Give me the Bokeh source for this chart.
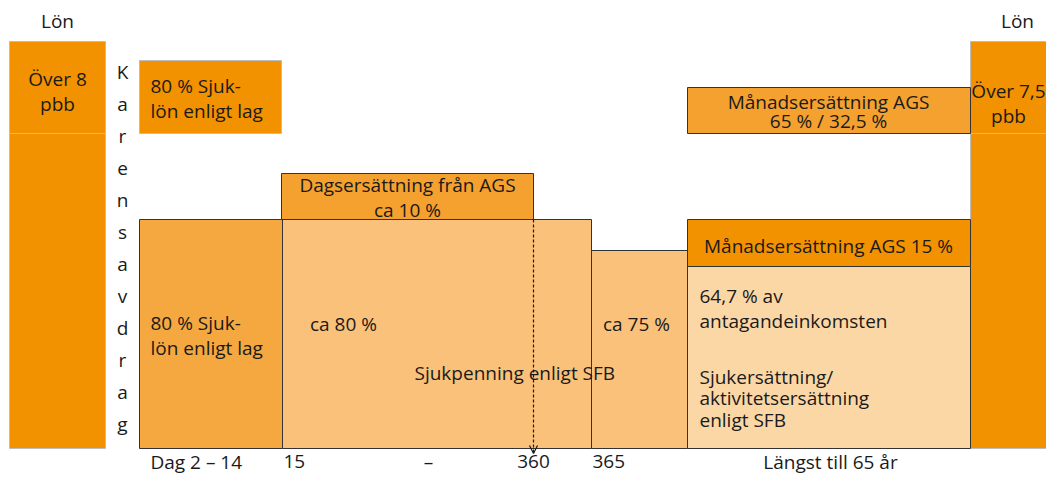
from bokeh.plotting import figure
from bokeh.models import Range1d, ColumnDataSource, Arrow, OpenHead
from bokeh.core.properties import value
from bokeh.embed import file_html
from bokeh.resources import INLINE

FONT = "Open Sans"
FS = "19px"
BASE = 448  # baseline of the schematic (pixel row)

# --- schematic boxes: column edges and levels (schematic units)
box_name = ["lon_l_top", "lon_l_bot", "lon_r_top", "lon_r_bot", "sjuklon_top", "sjuklon",
            "sjukpenning", "ags_dag", "ca75", "ags15", "sjukersattning", "ags65"]
box_left = [9, 9, 970, 970, 139, 139, 282, 281, 591, 687, 687, 687]
box_right = [105, 105, 1062, 1062, 281, 282, 591, 533, 687, 970, 970, 970]
box_top_px = [41, 133, 41, 133, 60, 219, 219, 173, 250, 219, 266, 87]
box_bot_px = [133, 448, 133, 448, 133, 448, 448, 219, 448, 266, 448, 133]
box_fill = ["#F39200", "#F39200", "#F39200", "#F39200", "#F39200", "#F5A840",
            "#FAC17A", "#F5A12F", "#FAC17A", "#F39200", "#FCD7A6", "#F5A12F"]
box_line = ["#BDBDBD", "#BDBDBD", "#BDBDBD", "#BDBDBD", "#BDBDBD", "#333333",
            "#333333", "#333333", "#333333", "#333333", "#333333", "#333333"]

# --- labels (grouped by line spacing)
lab_text = ["Lön", "Lön", "Över 8\npbb", "Över 7,5\npbb",
            "80 % Sjuk-\nlön enligt lag", "80 % Sjuk-\nlön enligt lag",
            "Dagsersättning från AGS\nca 10 %", "ca 80 %", "Sjukpenning enligt SFB", "ca 75 %",
            "Månadsersättning AGS 15 %", "64,7 % av\nantagandeinkomsten"]
lab_x = [57, 1017, 57, 1008, 150, 150, 407, 343, 414, 636, 828, 699]
lab_y_px = [20, 20, 91, 103, 98, 335, 197, 323, 372, 323, 245, 308]
lab_align = ["center", "center", "center", "center", "left", "left", "center", "center",
             "left", "center", "center", "left"]

sjuk_text = "Sjukersättning/\naktivitetsersättning\nenligt SFB"
sjuk_x, sjuk_y_px = 699, 398

ags65_text = "Månadsersättning AGS\n65 % / 32,5 %"
ags65_x, ags65_y_px = 828, 111

karens_text = "\n".join("Karensavdrag")
karens_x, karens_y_px = 122, 247.5

tick_text = ["Dag 2 – 14", "15", "–", "360", "365", "Längst till 65 år"]
tick_x = [150, 283, 428, 533, 592, 830]
tick_align = ["left", "left", "center", "center", "left", "center"]
tick_y_px = 461


def yv(py):
    return BASE - py


p = figure(width=1046, height=473, output_backend="svg", toolbar_location=None,
           x_range=Range1d(0, 1046), y_range=Range1d(BASE - 473, BASE),
           min_border=0, min_border_left=0, min_border_right=0,
           min_border_top=0, min_border_bottom=0)
p.axis.visible = False
p.grid.visible = False
p.outline_line_color = None
p.background_fill_color = "white"

src = ColumnDataSource(dict(left=box_left, right=box_right,
                            top=[yv(v) for v in box_top_px], bottom=[yv(v) for v in box_bot_px],
                            fill=box_fill, line=box_line))
p.quad(left="left", right="right", top="top", bottom="bottom", source=src,
       fill_color="fill", line_color="line", line_width=1)

common = dict(text_baseline="middle", text_font=value(FONT), text_font_size=FS, text_color="#1a1a1a")

lsrc = ColumnDataSource(dict(x=lab_x, y=[yv(v) for v in lab_y_px], text=lab_text, align=lab_align))
p.text(x="x", y="y", text="text", source=lsrc, text_align="align", text_line_height=0.93, **common)

p.text(x=[sjuk_x], y=[yv(sjuk_y_px)], text=[sjuk_text], text_align="left",
       text_line_height=0.83, **common)

p.text(x=[ags65_x], y=[yv(ags65_y_px)], text=[ags65_text], text_align="center",
       text_line_height=0.72, **common)

p.text(x=[karens_x], y=[yv(karens_y_px)], text=[karens_text], text_align="center",
       text_line_height=1.23, **common)

tsrc = ColumnDataSource(dict(x=tick_x, y=[yv(tick_y_px)] * len(tick_x), text=tick_text, align=tick_align))
p.text(x="x", y="y", text="text", source=tsrc, text_align="align", **common)

p.add_layout(Arrow(x_start=533, y_start=yv(219), x_end=533, y_end=yv(453),
                   line_color="#1a1a1a", line_width=1.2, line_dash="3 2",
                   end=OpenHead(size=8, line_color="#1a1a1a", line_width=1.2)))

open("out.html", "w").write(file_html(p, INLINE))
